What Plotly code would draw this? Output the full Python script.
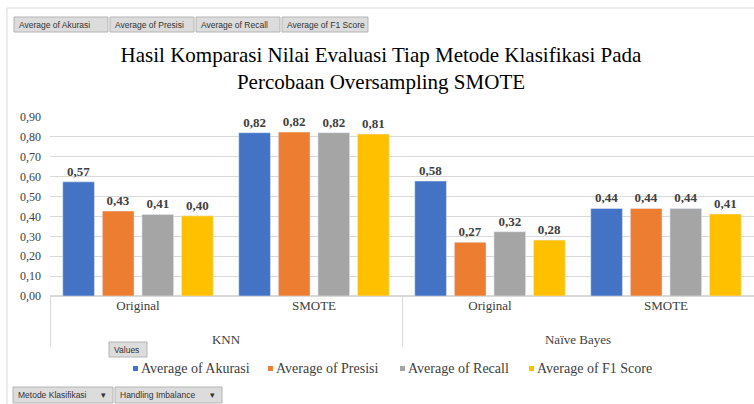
import plotly.graph_objects as go

# ---- data ----
methods = ["KNN", "KNN", "Naïve Bayes", "Naïve Bayes"]
handling = ["Original", "SMOTE", "Original", "SMOTE"]
akurasi = [0.574, 0.821, 0.578, 0.440]
presisi = [0.427, 0.824, 0.270, 0.440]
recall = [0.410, 0.821, 0.323, 0.440]
f1_score = [0.403, 0.814, 0.281, 0.412]
series_names = ["Average of Akurasi", "Average of Presisi", "Average of Recall", "Average of F1 Score"]
series_values = [akurasi, presisi, recall, f1_score]
colors = ["#4472C4", "#ED7D31", "#A5A5A5", "#FFC000"]
y_ticks = [0.0, 0.1, 0.2, 0.3, 0.4, 0.5, 0.6, 0.7, 0.8, 0.9]

W, H = 754, 404
L, R, T, B = 50, 0, 117, 108
PW = W - L - R
PH = H - T - B
YMAX = 0.9

def px(x):
    return (x - L) / PW

def py(y):
    return (H - B - y) / PH

SERIF = "Liberation Serif, Times New Roman, serif"
SANS = "Liberation Sans, Arial, sans-serif"

# inner labels get an empty second line so the outer level sits lower
inner_labels = [h + "<br> " for h in handling]

fig = go.Figure()
for name, vals, col in zip(series_names, series_values, colors):
    fig.add_trace(go.Bar(
        x=[methods, inner_labels], y=vals, name=name,
        marker=dict(color=col),
        texttemplate="%{y:.2f}", textposition="outside", constraintext="none",
        textfont=dict(family=SERIF, size=13, color="#404040", weight="bold"),
        cliponaxis=False, hoverinfo="y+name", showlegend=False,
    ))

shapes = []
annotations = []

# outer frame lines
shapes.append(dict(type="line", xref="paper", yref="paper", x0=px(7), x1=px(754), y0=py(8), y1=py(8),
                   line=dict(color="#D9D9D9", width=1)))
shapes.append(dict(type="line", xref="paper", yref="paper", x0=px(7), x1=px(7), y0=py(8), y1=py(404),
                   line=dict(color="#D9D9D9", width=1)))

def button(x0, x1, y0, y1, text, arrow=False):
    shapes.append(dict(type="rect", xref="paper", yref="paper", x0=px(x0), x1=px(x1), y0=py(y0), y1=py(y1),
                       fillcolor="#DCDCDC", line=dict(color="#B4B4B4", width=1), layer="above"))
    annotations.append(dict(xref="paper", yref="paper", x=px(x0 + 3), y=py((y0 + y1) / 2),
                            text=text, showarrow=False, xanchor="left", yanchor="middle",
                            font=dict(family=SANS, size=8.5, color="#333333")))
    if arrow:
        annotations.append(dict(xref="paper", yref="paper", x=px(x1 - 10), y=py((y0 + y1) / 2),
                                text="▾", showarrow=False, xanchor="center", yanchor="middle",
                                font=dict(family=SANS, size=9, color="#333333")))

button(14, 108, 17, 32, "Average of Akurasi")
button(110, 194, 17, 32, "Average of Presisi")
button(196, 280, 17, 32, "Average of Recall")
button(282, 368, 17, 32, "Average of F1 Score")
button(109, 147, 342, 357, "Values")
button(13, 113, 387, 403, "Metode Klasifikasi", arrow=True)
button(115, 222, 387, 403, "Handling Imbalance", arrow=True)

# legend (Excel style: small square right before the text)
legend_x = [133, 268, 400, 529]
for lx, name, col in zip(legend_x, series_names, colors):
    shapes.append(dict(type="rect", xref="paper", yref="paper", x0=px(lx), x1=px(lx + 5),
                       y0=py(366), y1=py(371), fillcolor=col, line=dict(width=0)))
    annotations.append(dict(xref="paper", yref="paper", x=px(lx + 6), y=py(368),
                            text=name, showarrow=False, xanchor="left", yanchor="middle",
                            font=dict(family=SERIF, size=14, color="#404040")))

fig.update_layout(
    width=W, height=H,
    margin=dict(l=L, r=R, t=T, b=B, autoexpand=False),
    paper_bgcolor="white", plot_bgcolor="white",
    separators=",.",
    barmode="group", bargap=0.1, bargroupgap=0.2,
    title=dict(text="Hasil Komparasi Nilai Evaluasi Tiap Metode Klasifikasi Pada<br>Percobaan Oversampling SMOTE",
               x=381 / W, xanchor="center", xref="container",
               y=1 - 62 / H, yanchor="top", yref="container",
               font=dict(family=SERIF, size=21, color="#000000")),
    xaxis=dict(type="multicategory", showgrid=False, showline=False,
               ticks="outside", ticklen=4, tickcolor="rgba(0,0,0,0)",
               showdividers=True, dividercolor="#D9D9D9", dividerwidth=1,
               tickfont=dict(family=SERIF, size=13, color="#404040")),
    yaxis=dict(range=[0, YMAX], tickvals=y_ticks, tickformat=".2f",
               showgrid=True, gridcolor="#D9D9D9", gridwidth=1, zeroline=True, zerolinecolor="#D9D9D9",
               showline=False, ticks="", ticklabelstandoff=8,
               tickfont=dict(family=SERIF, size=12, color="#404040")),
    showlegend=False,
    shapes=shapes, annotations=annotations,
)

fig.write_html("out.html", config={"displayModeBar": False},
               post_script="document.body.style.margin='0';")
